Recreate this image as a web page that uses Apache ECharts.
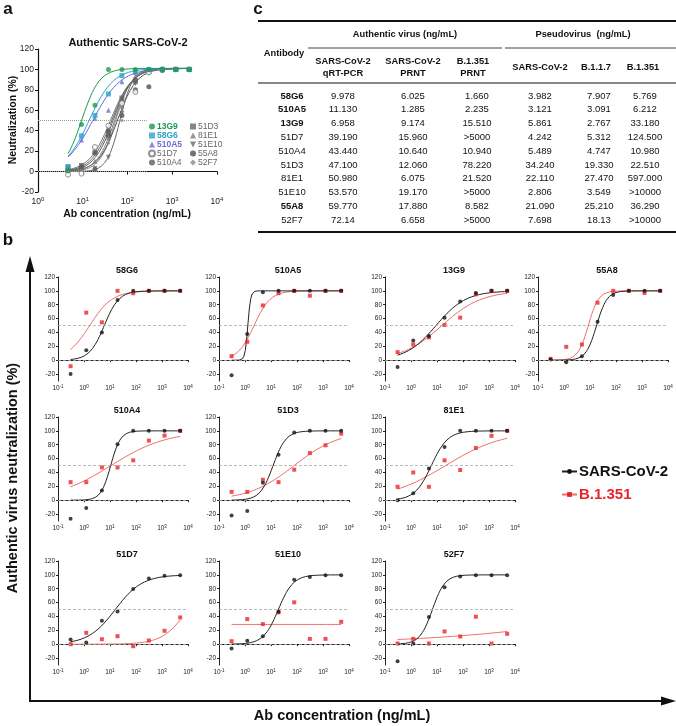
<!DOCTYPE html>
<html><head><meta charset="utf-8">
<script src="https://cdn.jsdelivr.net/npm/echarts@6/dist/echarts.min.js"></script>
<style>html,body{margin:0;padding:0;background:#fff}#c{width:676px;height:726px}</style>
</head><body><div id="c"></div>
<script>
// ---------- Panel a data ----------
const A_CONC = [4.69, 9.38, 18.75, 37.5, 75, 150, 300, 600, 1200, 2400];
const A_NAMES = ['13G9', '58G6', '510A5', '51D7', '510A4', '51D3', '81E1', '51E10', '55A8', '52F7'];
const A_13G9  = [1, 46, 65, 100, 100, 100, 100, 100, 100, 100];
const A_58G6  = [5, 35, 55, 76, 94, 98, 100, 100, 100, 100];
const A_510A5 = [3, 31, 52, 60, 88, 97, 100, 100, 100, 100];
const A_51D7  = [-3, -2, 24, 45, 67, 78, 97, 100, 100, 100];
const A_510A4 = [2, 5, 18, 40, 68, 90, 99, 100, 100, 100];
const A_51D3  = [4, 6, 19, 38, 72, 88, 98, 100, 100, 100];
const A_81E1  = [1, 3, 10, 33, 64, 93, 99, 100, 100, 100];
const A_51E10 = [-1, 2, 3, 14, 57, 86, 98, 100, 100, 100];
const A_55A8  = [0, 4, 2, 35, 55, 80, 83, 99, 100, 100];
const A_52F7  = [0, 1, 3, 28, 50, 78, 96, 100, 100, 100];
// fitted 4PL curve parameters: IC50 (ng/mL), Hill slope
const A_FIT_IC50 = [9.5, 14, 17, 42, 48, 45, 52, 68, 60, 55];
const A_FIT_HILL = [2.2, 1.6, 1.4, 1.8, 2.0, 1.9, 2.2, 3.0, 2.0, 2.4];
const A_YTICKS = [-20, 0, 20, 40, 60, 80, 100, 120];

// ---------- Panel b data ----------
const B_NAMES = ['58G6', '510A5', '13G9', '55A8', '510A4', '51D3', '81E1', '51D7', '51E10', '52F7'];
const B_CONC = [0.305, 1.22, 4.88, 19.5, 78.1, 312.5, 1250, 5000];
const B_SARS = [
  [-19.8, 14.5, 40, 87, 100, 100, 100, 100],
  [-21.7, 37.7, 98, 100, 100, 100, 100, 100],
  [-9.7, 28.5, 34.8, 61.4, 84.5, 97, 100, 100],
  [1, -2.9, 5.8, 55.6, 94.2, 100, 100, 100],
  [-26.6, -11.1, 14, 80.7, 100, 100, 100, 100],
  [-22.2, -15.5, 25.1, 65.7, 97.6, 100, 100, 100],
  [0, 10.1, 45.9, 76.8, 100, 100, 100, 100],
  [6.8, 2.4, 33.8, 47.3, 79.7, 94.7, 98.6, 99.5],
  [-6.3, 4.8, 11.6, 46.9, 92.8, 97.1, 99.5, 99.5],
  [-24.6, 1, 39.1, 82.2, 97.6, 99.5, 99.5, 99.5]
];
const B_B1351 = [
  [-8.7, 68.6, 54.6, 100, 96.6, 100, 100, 100],
  [5.8, 26.6, 79, 96.6, 100, 93, 100, 100],
  [11.6, 22.7, 32.9, 50.7, 61.4, 95, 100, 100],
  [1.9, 19.3, 22.7, 83, 100, 100, 97, 100],
  [26, 26, 47.3, 47.3, 57.5, 86, 93.2, 100],
  [12, 12, 29.5, 26, 44, 68, 79.2, 96],
  [19.3, 40, 19.3, 57.5, 43.5, 75.4, 92.8, 100],
  [0, 16.4, 7.2, 11.6, -2.9, 5.3, 19.3, 38.6],
  [4.3, 36.2, 29, 45.9, 60.4, 7.7, 7.7, 32.3],
  [1, 7.7, 1, 18.4, 11.1, 39.6, 1, 15]
];
// fitted 4PL parameters: [bottom, top, IC50, hill]
const B_SARS_FIT = [
  [0, 100, 6.025, 1.53], [0, 100, 1.285, 8], [0, 100, 9.174, 0.75], [0, 100, 17.88, 2.14],
  [0, 100, 10.64, 2.3], [0, 100, 12.06, 1.75], [0, 100, 6.075, 1.37],
  [0, 100, 15.96, 0.84], [0, 100, 19.17, 1.52], [0, 100, 6.658, 1.8]
];
const B_B1351_FIT = [
  [0, 100, 1.66, 1.0], [0, 100, 2.235, 1.39], [0, 100, 15.51, 0.57], [0, 100, 8.582, 2.2],
  [0, 100, 10.94, 0.4], [0, 100, 78.22, 0.5], [0, 100, 21.52, 0.39],
  [0, 100, 10000, 0.9], [28.5, 28.5, 1, 1], [0, 100, 2e9, 0.116]
];
const B_YTICKS = [-20, 0, 20, 40, 60, 80, 100, 120];
const B_REFLINES = [0, 50];

// ---------- Panel c table ----------
const T_ANTIBODY = ['58G6', '510A5', '13G9', '51D7', '510A4', '51D3', '81E1', '51E10', '55A8', '52F7'];
const T_BOLD = [true, true, true, false, false, false, false, false, true, false];
const T_SARS_QRT = ['9.978', '11.130', '6.958', '39.190', '43.440', '47.100', '50.980', '53.570', '59.770', '72.14'];
const T_SARS_PRNT = ['6.025', '1.285', '9.174', '15.960', '10.640', '12.060', '6.075', '19.170', '17.880', '6.658'];
const T_B1351_PRNT = ['1.660', '2.235', '15.510', '>5000', '10.940', '78.220', '21.520', '>5000', '8.582', '>5000'];
const T_PS_SARS = ['3.982', '3.121', '5.861', '4.242', '5.489', '34.240', '22.110', '2.806', '21.090', '7.698'];
const T_PS_B117 = ['7.907', '3.091', '2.767', '5.312', '4.747', '19.330', '27.470', '3.549', '25.210', '18.13'];
const T_PS_B1351 = ['5.769', '6.212', '33.180', '124.500', '10.980', '22.510', '597.000', '>10000', '36.290', '>10000'];

// ---------- build ----------
const FONT = '"Liberation Sans", Arial, Helvetica, sans-serif';
function fit(p, x0, x1, n) {
  const [b, t, ic, h] = p;
  const l0 = Math.log10(x0), l1 = Math.log10(x1), li = Math.log10(ic);
  const out = [];
  for (let k = 0; k <= n; k++) {
    const lx = l0 + (l1 - l0) * k / n;
    out.push([Math.pow(10, lx), b + (t - b) / (1 + Math.pow(10, (li - lx) * h))]);
  }
  return out;
}
function logLabel(fs, sfs) {
  return {
    formatter: v => '10{s|' + Math.round(Math.log10(v)) + '}',
    fontSize: fs, color: '#222', fontFamily: FONT,
    rich: { s: { fontSize: sfs, fontFamily: FONT, color: '#222', verticalAlign: 'bottom', padding: [0, 0, fs * 0.55, 0] } }
  };
}

const grids = [], xAxes = [], yAxes = [], series = [], titles = [];

// Panel a
grids.push({ left: 38, top: 49, width: 179, height: 143 });
xAxes.push({ gridIndex: 0, type: 'log', logBase: 10, min: 1, max: 10000,
  axisLine: { lineStyle: { color: '#111', width: 1.2 } },
  axisTick: { length: 3, lineStyle: { color: '#111' } },
  axisLabel: Object.assign(logLabel(8.5, 6), { margin: 4 }),
  splitLine: { show: false } });
yAxes.push({ gridIndex: 0, type: 'value', min: -20, max: 120, interval: 20,
  axisLine: { show: true, lineStyle: { color: '#111', width: 1.2 } },
  axisTick: { show: true, length: 3, lineStyle: { color: '#111' } },
  axisLabel: { fontSize: 8.5, color: '#222', margin: 4, fontFamily: FONT },
  splitLine: { show: false } });

const A_VALUES = [A_13G9, A_58G6, A_510A5, A_51D7, A_510A4, A_51D3, A_81E1, A_51E10, A_55A8, A_52F7];
const A_COLORS = ['#1a9a4e', '#2ba3c9', '#6b6bd8', '#777777', '#5e5e5e', '#666666', '#7a7a7a', '#6a6a6a', '#505050', '#8a8a8a'];
const A_SYMBOLS = ['circle', 'rect', 'triangle', 'circle', 'circle', 'rect', 'triangle',
  'path://M0,0 L10,0 L5,10 Z', 'circle', 'diamond'];
for (let i = A_NAMES.length - 1; i >= 0; i--) {
  const s = {
    type: 'line', name: A_NAMES[i] + ' fit', xAxisIndex: 0, yAxisIndex: 0,
    data: fit([0, 101, A_FIT_IC50[i], A_FIT_HILL[i]], A_CONC[0], A_CONC[A_CONC.length - 1], 80),
    showSymbol: false, symbol: 'none', silent: true, z: 2,
    lineStyle: { color: A_COLORS[i], width: 1 }
  };
  if (i === 0) {
    s.markLine = { silent: true, symbol: 'none', label: { show: false },
      lineStyle: { color: '#999', type: 'dotted', width: 1 },
      data: B_REFLINES.map(v => [{ coord: [1, v] }, { coord: [270, v] }]) };
  }
  series.push(s);
}
for (let i = A_NAMES.length - 1; i >= 0; i--) {
  const open = A_NAMES[i] === '51D7';
  series.push({
    type: 'scatter', name: A_NAMES[i], xAxisIndex: 0, yAxisIndex: 0,
    data: A_CONC.map((x, j) => [x, A_VALUES[i][j]]),
    symbol: A_SYMBOLS[i], symbolSize: A_NAMES[i] === '52F7' ? 4 : 5, z: 3,
    itemStyle: open ? { color: '#fff', borderColor: A_COLORS[i], borderWidth: 1 } : { color: A_COLORS[i] }
  });
}

// Panel b
const COL_LEFT = [58, 219, 385, 538];
const ROW_TOP = [277, 417, 561];
const POS = [[0, 0], [0, 1], [0, 2], [0, 3], [1, 0], [1, 1], [1, 2], [2, 0], [2, 1], [2, 2]];
const RED = '#e8262a', RED_LINE = '#f26b6b', BLACK = '#111';
B_NAMES.forEach((nm, i) => {
  const g = i + 1;
  const [r, c] = POS[i];
  grids.push({ left: COL_LEFT[c], top: ROW_TOP[r], width: 130, height: 104 });
  xAxes.push({ gridIndex: g, type: 'log', logBase: 10, min: 0.1, max: 10000,
    axisLine: { lineStyle: { color: '#222', width: 1 } },
    axisTick: { length: 2, lineStyle: { color: '#222' } },
    axisLabel: Object.assign(logLabel(6.5, 4.5), { margin: 3 }),
    splitLine: { show: false } });
  yAxes.push({ gridIndex: g, type: 'value', min: -30, max: 120,
    axisLine: { show: true, lineStyle: { color: '#222', width: 1 } },
    axisTick: { show: true, length: 2, customValues: B_YTICKS, lineStyle: { color: '#222' } },
    axisLabel: { fontSize: 6.5, color: '#222', margin: 3, customValues: B_YTICKS, fontFamily: FONT },
    splitLine: { show: false } });
  titles.push({ text: nm, left: COL_LEFT[c] + 69, top: ROW_TOP[r] - 11, textAlign: 'center', padding: 0,
    textStyle: { fontSize: 9, fontWeight: 'bold', color: '#111', fontFamily: FONT } });
  const x0 = B_CONC[0], x1 = B_CONC[B_CONC.length - 1];
  series.push({ type: 'line', name: 'B.1.351', xAxisIndex: g, yAxisIndex: g,
    data: fit(B_B1351_FIT[i], x0, x1, 80), showSymbol: false, symbol: 'rect', symbolSize: 5, silent: true, z: 2,
    itemStyle: { color: RED }, lineStyle: { color: RED_LINE, width: 1 },
    markLine: { silent: true, symbol: 'none', label: { show: false },
      lineStyle: { color: '#aaa', type: [3, 2], width: 0.8 },
      data: B_REFLINES.map(v => [{ coord: [0.1, v] }, { coord: [10000, v] }]) } });
  series.push({ type: 'line', name: 'SARS-CoV-2', xAxisIndex: g, yAxisIndex: g,
    data: fit(B_SARS_FIT[i], x0, x1, 80), showSymbol: false, symbol: 'circle', symbolSize: 5, silent: true, z: 2,
    itemStyle: { color: BLACK }, lineStyle: { color: '#222', width: 1 } });
  series.push({ type: 'scatter', name: 'B.1.351', xAxisIndex: g, yAxisIndex: g,
    data: B_CONC.map((x, j) => [x, B_B1351[i][j]]), symbol: 'rect', symbolSize: 4, z: 3,
    itemStyle: { color: RED } });
  series.push({ type: 'scatter', name: 'SARS-CoV-2', xAxisIndex: g, yAxisIndex: g,
    data: B_CONC.map((x, j) => [x, B_SARS[i][j]]), symbol: 'circle', symbolSize: 4, z: 4,
    itemStyle: { color: BLACK } });
});

// Graphic: labels, table, big axes
const gfx = [];
function txt(x, y, s, font, opts) {
  gfx.push(Object.assign({ type: 'text', x: x, y: y, silent: true,
    style: Object.assign({ text: s, font: font, fill: '#111', align: 'center', verticalAlign: 'middle',
      textAlign: 'center', textVerticalAlign: 'middle' }, (opts && opts.style) || {}) },
    (opts && opts.el) || {}));
}
function line(x1, y1, x2, y2, w) {
  gfx.push({ type: 'line', silent: true, shape: { x1, y1, x2, y2 }, style: { stroke: '#111', lineWidth: w } });
}
txt(8, 9, 'a', 'bold 17px ' + FONT);
txt(258, 9, 'c', 'bold 17px ' + FONT);
txt(8, 240, 'b', 'bold 17px ' + FONT);
txt(128, 43, 'Authentic SARS-CoV-2', 'bold 11px ' + FONT);
txt(13, 120, 'Neutralization (%)', 'bold 10.5px ' + FONT, { el: { rotation: Math.PI / 2 } });
txt(127, 214, 'Ab concentration (ng/mL)', 'bold 10.5px ' + FONT);
txt(13, 478, 'Authentic virus neutralization (%)', 'bold 14.5px ' + FONT, { el: { rotation: Math.PI / 2 } });
txt(342, 716, 'Ab concentration (ng/mL)', 'bold 14.5px ' + FONT);
// big axes with arrows
line(30, 701, 30, 268, 2);
line(29, 701, 666, 701, 2);
gfx.push({ type: 'polygon', silent: true, shape: { points: [[30, 256], [25.5, 272], [34.5, 272]] }, style: { fill: '#111' } });
gfx.push({ type: 'polygon', silent: true, shape: { points: [[676, 701], [661, 696.5], [661, 705.5]] }, style: { fill: '#111' } });
// table
const TF = 'bold 9.3px ' + FONT, TN = '9.5px ' + FONT;
line(258, 21, 676, 21, 1.8);
line(308, 48, 502, 48, 0.8);
line(505, 48, 676, 48, 0.8);
line(258, 83, 676, 83, 1);
line(258, 232, 676, 232, 1.8);
txt(405, 34, 'Authentic virus (ng/mL)', TF);
txt(583, 34, 'Pseudovirus  (ng/mL)', TF);
txt(284, 53, 'Antibody', TF);
txt(343, 61, 'SARS-CoV-2', TF); txt(343, 73.5, 'qRT-PCR', TF);
txt(413, 61, 'SARS-CoV-2', TF); txt(413, 73.5, 'PRNT', TF);
txt(473, 61, 'B.1.351', TF); txt(473, 73.5, 'PRNT', TF);
txt(540, 67, 'SARS-CoV-2', TF);
txt(596, 67, 'B.1.1.7', TF);
txt(643, 67, 'B.1.351', TF);
const T_COLS = [T_SARS_QRT, T_SARS_PRNT, T_B1351_PRNT, T_PS_SARS, T_PS_B117, T_PS_B1351];
const T_COLX = [343, 413, 477, 540, 599, 645];
T_ANTIBODY.forEach((a, r) => {
  const y = 96 + 13.8 * r;
  txt(292, y, a, T_BOLD[r] ? 'bold 9.5px ' + FONT : TN);
  T_COLS.forEach((col, c) => txt(T_COLX[c], y, col[r], TN));
});

const option = {
  backgroundColor: '#fff',
  animation: false,
  title: titles,
  grid: grids, xAxis: xAxes, yAxis: yAxes, series: series,
  legend: [
    { left: 148, top: 122, orient: 'vertical', padding: 0, itemGap: 0, itemWidth: 6, itemHeight: 6,
      selectedMode: false,
      data: A_NAMES.slice(0, 5).map((n, i) => ({ name: n, textStyle: { color: i < 3 ? A_COLORS[i] : '#666', fontWeight: i < 3 ? 'bold' : 'normal' } })),
      textStyle: { fontSize: 8.5, lineHeight: 7, padding: [0, 0, 0, -3], fontFamily: FONT } },
    { left: 190, top: 122, orient: 'vertical', padding: 0, itemGap: 0, itemWidth: 6, itemHeight: 6,
      selectedMode: false,
      data: A_NAMES.slice(5).map(n => ({ name: n, textStyle: { color: '#666' } })),
      textStyle: { fontSize: 8.5, lineHeight: 7, padding: [0, 0, 0, -3], fontFamily: FONT } },
    { left: 561, top: 464, orient: 'vertical', padding: 0, itemGap: 8, itemWidth: 15, itemHeight: 6,
      selectedMode: false,
      data: [{ name: 'SARS-CoV-2', textStyle: { color: '#111' } }, { name: 'B.1.351', textStyle: { color: RED } }],
      textStyle: { fontSize: 15, fontWeight: 'bold', fontFamily: FONT, padding: [0, 0, 0, -3] } }
  ],
  graphic: { elements: gfx }
};
const chart = echarts.init(document.getElementById('c'), null, { renderer: 'canvas' });
chart.setOption(option);
</script></body></html>
